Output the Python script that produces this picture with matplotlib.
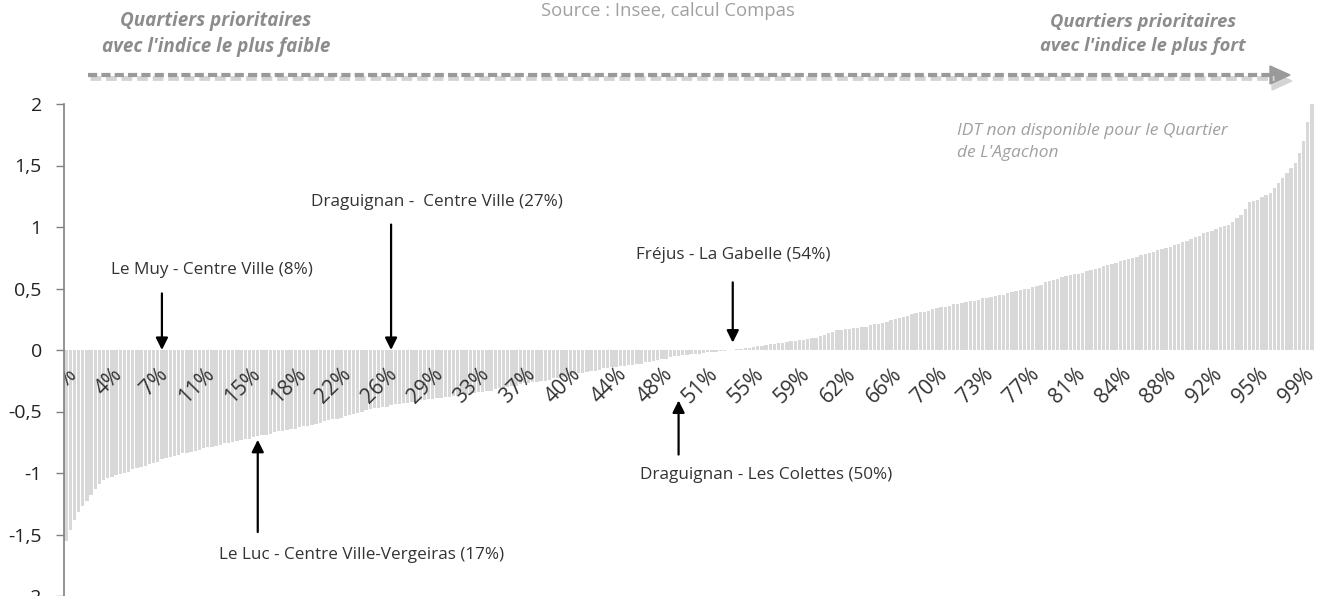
#Indice de développement territorial (IDT) des quartiers prioritaires, classés
import matplotlib
matplotlib.use("Agg")
import matplotlib.pyplot as plt
from matplotlib.lines import Line2D
from matplotlib.patches import Polygon
from matplotlib.ticker import FuncFormatter

plt.rcParams['font.family'] = ['Open Sans', 'DejaVu Sans']

#valeurs de l'indice, quartiers triés du plus faible au plus fort
idt = [
    -1.55, -1.46, -1.38, -1.32, -1.27, -1.23, -1.18, -1.13, -1.09, -1.06,
    -1.04, -1.03, -1.02, -1.01, -1.00, -0.99, -0.97, -0.96, -0.95, -0.94,
    -0.93, -0.92, -0.91, -0.89, -0.88, -0.87, -0.86, -0.85, -0.84, -0.84,
    -0.83, -0.82, -0.81, -0.80, -0.79, -0.79, -0.78, -0.77, -0.76, -0.76,
    -0.75, -0.74, -0.73, -0.72, -0.72, -0.71, -0.70, -0.69, -0.69, -0.68,
    -0.67, -0.66, -0.66, -0.65, -0.64, -0.64, -0.63, -0.62, -0.62, -0.61,
    -0.60, -0.59, -0.58, -0.57, -0.56, -0.56, -0.55, -0.54, -0.53, -0.52,
    -0.51, -0.50, -0.49, -0.48, -0.47, -0.47, -0.46, -0.46, -0.45, -0.44,
    -0.44, -0.43, -0.43, -0.42, -0.42, -0.41, -0.41, -0.40, -0.40, -0.39,
    -0.39, -0.38, -0.38, -0.37, -0.37, -0.36, -0.36, -0.35, -0.35, -0.34,
    -0.34, -0.33, -0.33, -0.32, -0.31, -0.31, -0.30, -0.29, -0.29, -0.28,
    -0.27, -0.27, -0.26, -0.26, -0.25, -0.25, -0.24, -0.23, -0.23, -0.22,
    -0.21, -0.21, -0.20, -0.19, -0.19, -0.18, -0.17, -0.17, -0.16, -0.15,
    -0.15, -0.14, -0.14, -0.13, -0.13, -0.12, -0.12, -0.11, -0.11, -0.10,
    -0.095, -0.09, -0.08, -0.07, -0.07, -0.06, -0.05, -0.05, -0.04, -0.04,
    -0.035, -0.03, -0.03, -0.025, -0.02, -0.02, -0.015, -0.01, -0.005, -0.003,
    0.002, 0.005, 0.01, 0.015, 0.02, 0.025, 0.03, 0.035, 0.04, 0.045,
    0.05, 0.055, 0.06, 0.065, 0.07, 0.075, 0.08, 0.085, 0.09, 0.095,
    0.10, 0.11, 0.12, 0.14, 0.15, 0.16, 0.16, 0.17, 0.17, 0.18,
    0.18, 0.19, 0.19, 0.20, 0.21, 0.21, 0.22, 0.23, 0.24, 0.25,
    0.26, 0.27, 0.28, 0.29, 0.30, 0.31, 0.31, 0.32, 0.33, 0.34,
    0.35, 0.35, 0.36, 0.37, 0.37, 0.38, 0.39, 0.40, 0.40, 0.41,
    0.42, 0.42, 0.43, 0.44, 0.45, 0.45, 0.46, 0.47, 0.48, 0.49,
    0.50, 0.50, 0.51, 0.52, 0.53, 0.55, 0.56, 0.57, 0.58, 0.59,
    0.60, 0.61, 0.62, 0.62, 0.63, 0.64, 0.65, 0.66, 0.67, 0.68,
    0.69, 0.70, 0.71, 0.72, 0.73, 0.74, 0.75, 0.76, 0.77, 0.78,
    0.79, 0.80, 0.81, 0.82, 0.83, 0.84, 0.85, 0.86, 0.88, 0.89,
    0.90, 0.92, 0.93, 0.95, 0.96, 0.97, 0.98, 1.00, 1.01, 1.02,
    1.04, 1.07, 1.10, 1.15, 1.20, 1.21, 1.22, 1.24, 1.26, 1.28,
    1.32, 1.36, 1.40, 1.44, 1.48, 1.52, 1.60, 1.70, 1.85, 2.05,
]

#étiquettes de l'axe des x (une tous les 11 quartiers)
rangs_etiquettes = [0, 11, 22, 33, 44, 55, 66, 77, 88, 99, 110, 121, 132, 143,
                    154, 165, 176, 187, 198, 209, 220, 231, 242, 253, 264, 275,
                    286, 297]
etiquettes = ["0%", "4%", "7%", "11%", "15%", "18%", "22%", "26%", "29%", "33%",
              "37%", "40%", "44%", "48%", "51%", "55%", "59%", "62%", "66%",
              "70%", "73%", "77%", "81%", "84%", "88%", "92%", "95%", "99%"]

#quartiers du territoire signalés par une flèche
quartiers_noms = ["Le Muy - Centre Ville (8%)",
                  "Draguignan -  Centre Ville (27%)",
                  "Fréjus - La Gabelle (54%)",
                  "Draguignan - Les Colettes (50%)",
                  "Le Luc - Centre Ville-Vergeiras (17%)"]
quartiers_rangs = [23, 78, 160, 147, 46]

W, H = 1322, 596
fig = plt.figure(figsize=(W / 100, H / 100), dpi=100)
ax = fig.add_axes([64 / W, 0.0, (1314 - 64) / W, (596 - 104) / H])

x = list(range(len(idt)))
ax.bar(x, idt, width=0.78, color="#d8d8d8", linewidth=0)
ax.set_xlim(-0.5, len(idt) - 0.5)
ax.set_ylim(-2, 2)

#axe y
ax.set_yticks([-2, -1.5, -1, -0.5, 0, 0.5, 1, 1.5, 2])
ax.yaxis.set_major_formatter(FuncFormatter(lambda v, p: f"{v:g}".replace(".", ",")))
ax.tick_params(axis="y", length=6, width=1, color="#808080", labelsize=14,
               labelcolor="#222222", pad=10)
ax.spines["left"].set_color("#808080")
ax.spines["left"].set_linewidth(1.2)
for s in ["top", "right"]:
    ax.spines[s].set_visible(False)

#axe x au niveau de zéro, sans trait
ax.spines["bottom"].set_position(("data", 0))
ax.spines["bottom"].set_visible(False)
ax.set_xticks(rangs_etiquettes, etiquettes)
ax.tick_params(axis="x", length=0, labelsize=15, labelcolor="#333333", pad=10)
for lbl in ax.get_xticklabels():
    lbl.set_rotation(45)
    lbl.set_ha("right")
    lbl.set_rotation_mode("anchor")
    lbl.set_clip_on(True)
    lbl.set_clip_box(ax.bbox)

#flèches vers les quartiers
# (position du texte, départ de la flèche, pointe)
placements = [
    ((35, 0.65), 0.46, 0.0),
    ((89, 1.20), 1.02, 0.0),
    ((160, 0.77), 0.55, 0.06),
    ((168, -1.02), -0.85, -0.41),
    ((71, -1.67), -1.48, -0.73),
]
for nom, r, (pos, y0, y1) in zip(quartiers_noms, quartiers_rangs, placements):
    ax.text(pos[0], pos[1], nom, ha="center", va="center", fontsize=12.3,
            color="#333333")
    ax.annotate("", xy=(r, y1), xytext=(r, y0),
                arrowprops=dict(arrowstyle="-|>", color="black", lw=1.6,
                                mutation_scale=18, shrinkA=0, shrinkB=0))

#textes du haut
def px(xp, yp):
    return xp / W, 1 - yp / H

gris = "#8c8c8c"
fig.text(*px(216, 34), "Quartiers prioritaires\navec l'indice le plus faible",
         ha="center", va="center", fontsize=13.6, fontweight="bold",
         fontstyle="italic", color=gris, linespacing=1.35)
fig.text(*px(1143, 34), "Quartiers prioritaires\navec l'indice le plus fort",
         ha="center", va="center", fontsize=13.2, fontweight="bold",
         fontstyle="italic", color=gris, linespacing=1.4)
fig.text(*px(668, 11), "Source : Insee, calcul Compas", ha="center",
         va="center", fontsize=13.3, color="#a0a0a0")
fig.text(*px(957, 142), "IDT non disponible pour le Quartier\nde L'Agachon",
         ha="left", va="center", fontsize=12.5, fontstyle="italic",
         color="#a0a0a0", linespacing=1.45)

#flèche pointillée du haut, avec ombre
x0, x1 = px(88, 0)[0], px(1272, 0)[0]
ombre = Line2D([x0 + 2 / W, x1 + 2 / W], [1 - 78 / H] * 2, transform=fig.transFigure,
               color="#d4d4d4", lw=3.5, dashes=(2.2, 1.0))
trait = Line2D([x0, x1], [1 - 74.5 / H] * 2, transform=fig.transFigure,
               color="#9a9a9a", lw=3, dashes=(2.2, 1.0))
fig.add_artist(ombre)
fig.add_artist(trait)
fig.add_artist(Polygon([px(1272, 72), px(1292, 81), px(1272, 90)],
                       closed=True, transform=fig.transFigure, color="#d4d4d4"))
fig.add_artist(Polygon([px(1270, 66), px(1290, 75), px(1270, 84)],
                       closed=True, transform=fig.transFigure, color="#9a9a9a"))

fig.savefig("out.png", dpi=100)
